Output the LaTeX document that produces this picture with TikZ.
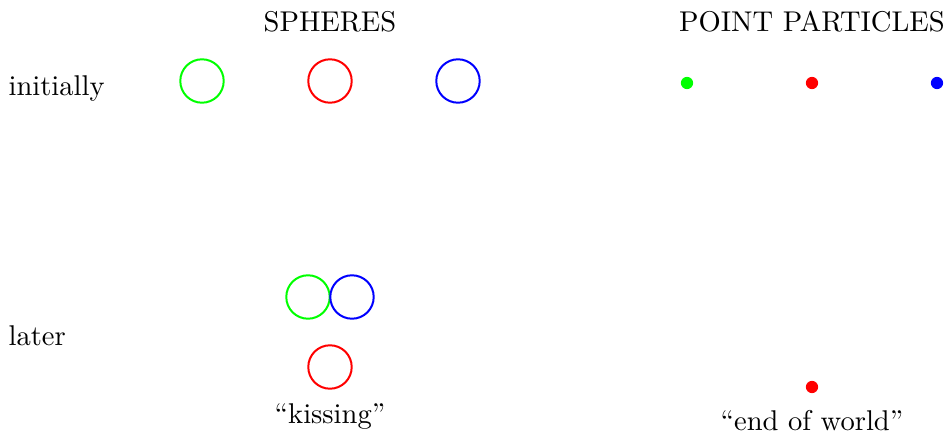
\documentclass[tikz,border=0pt]{standalone}
\begin{document}
\begin{tikzpicture}[x=0.35pt,y=-0.35pt,
  sphere/.style={circle,draw=#1,line width=0.7pt,minimum size=15.2pt,inner sep=0pt},
  particle/.style={circle,fill=#1,minimum size=4.3pt,inner sep=0pt},
  lbl/.style={inner sep=0pt}]
\useasboundingbox (0,0) rectangle (948,437);
\node[lbl] (sph) at (330,22) {SPHERES};
\node[lbl] (pp) at (812,22) {POINT PARTICLES};
\node[lbl,anchor=west] (init) at (8,89) {initially};
\node[lbl,anchor=west] (later) at (8,336) {later};
\node[sphere=green] (g1) at (202,81) {};
\node[sphere=red] (r1) at (330,81) {};
\node[sphere=blue] (b1) at (458,81) {};
\node[particle=green] (pg) at (687,83) {};
\node[particle=red] (pr) at (812,83) {};
\node[particle=blue] (pb) at (937,83) {};
\node[sphere=green] (g2) at (308,297) {};
\node[sphere=blue] (b2) at (352,297) {};
\node[sphere=red] (r2) at (330,367) {};
\node[lbl] (kiss) at (330,417) {``kissing''};
\node[particle=red] (pr2) at (812,387) {};
\node[lbl] (end) at (812,421) {``end of world''};
\end{tikzpicture}
\end{document}
